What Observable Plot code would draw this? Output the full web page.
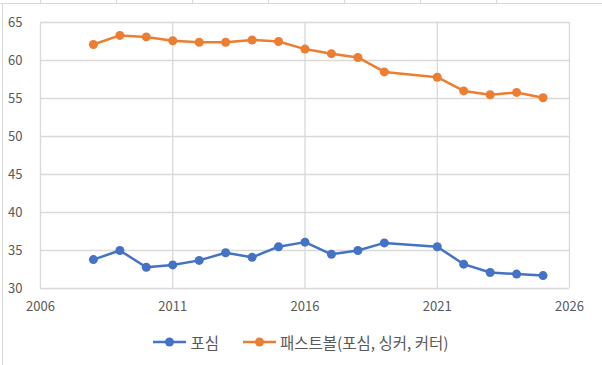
<!DOCTYPE html>
<html>
<head>
<meta charset="utf-8">
<script src="https://cdn.jsdelivr.net/npm/d3@7"></script>
<script src="https://cdn.jsdelivr.net/npm/@observablehq/plot@0.6"></script>
<style>
  html, body { margin: 0; padding: 0; background: #fff; }
  #wrap { position: relative; width: 602px; height: 365px; overflow: hidden; font-family: "Noto Sans CJK KR", "Noto Sans", sans-serif; }
  #chart { position: absolute; left: 0; top: 0; }
  .cellline { position: absolute; background: #d9d9d9; }
  #legend { position: absolute; left: 0; top: 326px; width: 602px; height: 32px; display: flex; justify-content: center; align-items: center; gap: 24px; font-size: 15.5px; color: #595959; }
  .item { display: flex; align-items: center; gap: 4px; }
</style>
</head>
<body>
<div id="wrap">
  <div id="chart"></div>
  <div id="legend"></div>
</div>
<script>
const years = [2008, 2009, 2010, 2011, 2012, 2013, 2014, 2015, 2016, 2017, 2018, 2019, 2021, 2022, 2023, 2024, 2025];
const fourSeam = [33.8, 35.0, 32.8, 33.1, 33.7, 34.7, 34.1, 35.5, 36.1, 34.5, 35.0, 36.0, 35.5, 33.2, 32.1, 31.9, 31.7];
const fastball = [62.1, 63.3, 63.1, 62.6, 62.4, 62.4, 62.7, 62.5, 61.5, 60.9, 60.4, 58.5, 57.8, 56.0, 55.5, 55.8, 55.1];
const seriesNames = ["포심", "패스트볼(포심, 싱커, 커터)"];
const seriesColors = ["#4472C4", "#ED7D31"];
const xTicks = [2006, 2011, 2016, 2021, 2026];
const yTicks = [30, 35, 40, 45, 50, 55, 60, 65];

const data = [];
years.forEach((yr, i) => {
  data.push({year: yr, value: fourSeam[i], series: seriesNames[0]});
  data.push({year: yr, value: fastball[i], series: seriesNames[1]});
});

const plot = Plot.plot({
  width: 602,
  height: 325,
  marginTop: 22,
  marginBottom: 37,
  marginLeft: 40,
  marginRight: 33,
  style: {fontFamily: "'Noto Sans CJK KR', 'Noto Sans', sans-serif", fontSize: "13px", color: "#595959", background: "transparent"},
  x: {domain: [2006, 2026]},
  y: {domain: [30, 65]},
  color: {domain: seriesNames, range: seriesColors},
  marks: [
    Plot.gridX(xTicks, {stroke: "#d9d9d9", strokeOpacity: 1, strokeWidth: 1.3}),
    Plot.gridY(yTicks, {stroke: "#d9d9d9", strokeOpacity: 1, strokeWidth: 1.3}),
    Plot.axisX(xTicks, {tickSize: 0, tickPadding: 13, tickFormat: d => String(d), fill: "#595959", label: null}),
    Plot.axisY(yTicks, {tickSize: 0, tickPadding: 18, tickFormat: d => String(d), fill: "#595959", label: null}),
    Plot.line(data, {x: "year", y: "value", z: "series", stroke: "series", strokeWidth: 2.5}),
    Plot.dot(data, {x: "year", y: "value", fill: "series", r: 4.5, stroke: "none"})
  ]
});
document.getElementById("chart").appendChild(plot);

// spreadsheet cell borders and chart border
const wrap = document.getElementById("wrap");
function addLine(l, t, w, h) {
  const d = document.createElement("div");
  d.className = "cellline";
  d.style.left = l + "px"; d.style.top = t + "px"; d.style.width = w + "px"; d.style.height = h + "px";
  wrap.appendChild(d);
}
addLine(0, 3, 602, 1);
[40, 116, 192, 268, 344, 420, 496].forEach(x => addLine(x, 0, 1, 3));
addLine(2, 3, 1, 362);

// legend
const legend = document.getElementById("legend");
seriesNames.forEach((name, i) => {
  const item = document.createElement("div");
  item.className = "item";
  item.innerHTML = `<svg width="33" height="12"><line x1="0" y1="6" x2="33" y2="6" stroke="${seriesColors[i]}" stroke-width="2.5"/><circle cx="16.5" cy="6" r="4.5" fill="${seriesColors[i]}"/></svg><span>${name}</span>`;
  legend.appendChild(item);
});
</script>
</body>
</html>
